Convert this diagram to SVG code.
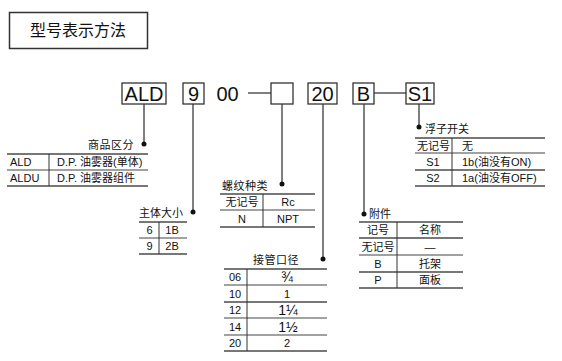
<svg xmlns="http://www.w3.org/2000/svg" width="562" height="361" viewBox="0 0 562 361">
<style>
text{font-family:"Liberation Sans","Noto Sans CJK SC",sans-serif;fill:#111;}
.t{font-size:11px;}
.c{text-anchor:middle;}
.code{font-size:20px;text-anchor:middle;}
.box{fill:#fff;stroke:#333;stroke-width:1.3;}
.stem{stroke:#555;stroke-width:1.5;fill:none;}
.dot{fill:#111;}
.hk{stroke:#777;stroke-width:2;}
.hn{stroke:#444;stroke-width:1.2;}
.v{stroke:#333;stroke-width:1;}
</style>
<rect width="562" height="361" fill="#fff"/>

<g id="title">
<rect x="9.5" y="12.5" width="138" height="36" fill="#fff" stroke="#333" stroke-width="1.5"/>
<text x="78" y="36" style="font-size:16px;text-anchor:middle">型号表示方法</text>
</g>

<g id="connectors">
<line class="stem" x1="144" y1="104" x2="144" y2="144"/>
<circle class="dot" cx="144" cy="144" r="2.5"/>
<line class="stem" x1="193" y1="104" x2="193" y2="212"/>
<circle class="dot" cx="193" cy="212" r="2.5"/>
<line class="stem" x1="248" y1="93" x2="271" y2="93"/>
<line class="stem" x1="282" y1="104" x2="282" y2="184"/>
<circle class="dot" cx="282" cy="184" r="2.5"/>
<line class="stem" x1="323" y1="104" x2="323" y2="259"/>
<circle class="dot" cx="323" cy="259" r="2.5"/>
<line class="stem" x1="374" y1="93" x2="406" y2="93"/>
<line class="stem" x1="364" y1="104" x2="364" y2="214"/>
<circle class="dot" cx="364" cy="214" r="2.5"/>
<line class="stem" x1="419" y1="104" x2="419" y2="127"/>
<circle class="dot" cx="419" cy="127" r="2.5"/>
</g>

<g id="code-ALD">
<rect class="box" x="122" y="83" width="44" height="21"/>
<text class="code" x="144" y="101">ALD</text>
</g>
<g id="code-9">
<rect class="box" x="183" y="83" width="21" height="21"/>
<text class="code" x="193.5" y="101">9</text>
</g>
<g id="code-00">
<text class="code" x="227.5" y="101">00</text>
</g>
<g id="code-blank">
<rect class="box" x="271" y="83" width="22" height="21"/>
</g>
<g id="code-20">
<rect class="box" x="308" y="83" width="29" height="21"/>
<text class="code" x="322.5" y="101">20</text>
</g>
<g id="code-B">
<rect class="box" x="353" y="83" width="21" height="21"/>
<text class="code" x="363.5" y="101">B</text>
</g>
<g id="code-S1">
<rect class="box" x="406" y="83" width="28" height="21"/>
<text class="code" x="420" y="101">S1</text>
</g>

<g id="table-product">
<text class="t" x="134" y="149" style="text-anchor:end;letter-spacing:0.5px">商品区分</text>
<line class="hk" x1="7" y1="154" x2="148" y2="154"/>
<line class="hn" x1="7" y1="170" x2="148" y2="170"/>
<line class="hk" x1="7" y1="186" x2="148" y2="186"/>
<line class="v" x1="49" y1="154" x2="49" y2="186"/>
<text class="t" x="10" y="166">ALD</text>
<text class="t" x="57" y="166">D.P. 油雾器(单体)</text>
<text class="t" x="10" y="182">ALDU</text>
<text class="t" x="57" y="182">D.P. 油雾器组件</text>
</g>

<g id="table-size">
<text class="t" x="139" y="217">主体大小</text>
<line class="hk" x1="139" y1="222" x2="187" y2="222"/>
<line class="hn" x1="139" y1="238" x2="187" y2="238"/>
<line class="hk" x1="139" y1="254" x2="187" y2="254"/>
<line class="v" x1="159" y1="222" x2="159" y2="254"/>
<text class="t c" x="149.5" y="234">6</text>
<text class="t c" x="172" y="234">1B</text>
<text class="t c" x="149.5" y="250">9</text>
<text class="t c" x="172" y="250">2B</text>
</g>

<g id="table-thread">
<text class="t" x="222" y="190" style="letter-spacing:0.5px">螺纹种类</text>
<line class="hk" x1="220" y1="194" x2="315" y2="194"/>
<line class="hn" x1="220" y1="210" x2="315" y2="210"/>
<line class="hk" x1="220" y1="227" x2="315" y2="227"/>
<line class="v" x1="263" y1="194" x2="263" y2="227"/>
<text class="t c" x="242" y="206">无记号</text>
<text class="t c" x="288" y="206">Rc</text>
<text class="t c" x="242" y="223">N</text>
<text class="t c" x="288" y="223">NPT</text>
</g>

<g id="table-port">
<text class="t" x="253" y="264" style="letter-spacing:0.5px">接管口径</text>
<line class="hk" x1="224" y1="269" x2="327" y2="269"/>
<line class="hn" x1="224" y1="285" x2="327" y2="285"/>
<line class="hk" x1="224" y1="302" x2="327" y2="302"/>
<line class="hn" x1="224" y1="318" x2="327" y2="318"/>
<line class="hn" x1="224" y1="335" x2="327" y2="335"/>
<line class="hk" x1="224" y1="351" x2="327" y2="351"/>
<line class="v" x1="247" y1="269" x2="247" y2="351"/>
<text class="t c" x="235" y="281">06</text>
<text class="c" x="287" y="282" style="font-size:14px">¾</text>
<text class="t c" x="235" y="297.5">10</text>
<text class="t c" x="287" y="297.5">1</text>
<text class="t c" x="235" y="314">12</text>
<text class="c" x="288" y="315" style="font-size:14px">1¼</text>
<text class="t c" x="235" y="330.5">14</text>
<text class="c" x="288" y="331.5" style="font-size:14px">1½</text>
<text class="t c" x="235" y="347">20</text>
<text class="t c" x="287" y="347">2</text>
</g>

<g id="table-accessory">
<text class="t" x="369" y="218">附件</text>
<line class="hk" x1="359" y1="222" x2="463" y2="222"/>
<line class="hk" x1="359" y1="238" x2="463" y2="238"/>
<line class="hn" x1="359" y1="255" x2="463" y2="255"/>
<line class="hk" x1="359" y1="272" x2="463" y2="272"/>
<line class="hk" x1="359" y1="288" x2="463" y2="288"/>
<line class="v" x1="397" y1="222" x2="397" y2="288"/>
<text class="t c" x="378" y="234">记号</text>
<text class="t c" x="430" y="234">名称</text>
<text class="t c" x="378" y="250.5">无记号</text>
<text class="t c" x="430" y="250.5">—</text>
<text class="t c" x="378" y="267.5">B</text>
<text class="t c" x="430" y="267.5">托架</text>
<text class="t c" x="378" y="284">P</text>
<text class="t c" x="430" y="284">面板</text>
</g>

<g id="table-float">
<text class="t" x="425" y="133">浮子开关</text>
<line class="hk" x1="415" y1="138" x2="545" y2="138"/>
<line class="hn" x1="415" y1="153" x2="545" y2="153"/>
<line class="hk" x1="415" y1="170" x2="545" y2="170"/>
<line class="hk" x1="415" y1="186" x2="545" y2="186"/>
<line class="v" x1="452" y1="138" x2="452" y2="186"/>
<text class="t c" x="433.5" y="149.5">无记号</text>
<text class="t" x="462" y="149.5">无</text>
<text class="t c" x="433" y="165.5">S1</text>
<text class="t" x="462" y="165.5">1b(油没有ON)</text>
<text class="t c" x="433" y="182">S2</text>
<text class="t" x="462" y="182">1a(油没有OFF)</text>
</g>
</svg>
